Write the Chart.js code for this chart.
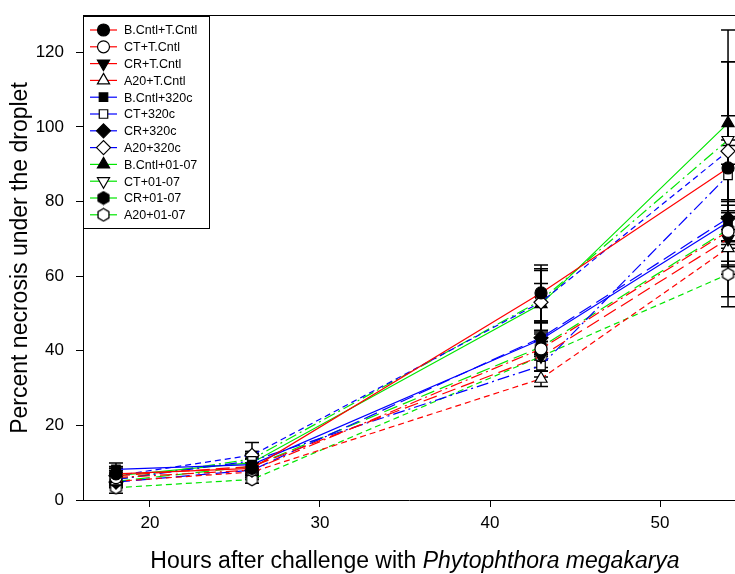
<!DOCTYPE html>
<html>
<head>
<meta charset="utf-8">
<script src="https://cdn.jsdelivr.net/npm/chart.js@4.4.0/dist/chart.umd.min.js"></script>
<style>
  html, body { margin: 0; padding: 0; background: #fff; overflow: hidden; }
  #wrap { width: 735px; height: 574px; position: relative; }
</style>
</head>
<body>
<div id="wrap"><canvas id="chart"></canvas></div>
<script>
// hours after challenge
const hours = [18, 26, 43, 54];

const seriesNames = [
  'B.Cntl+T.Cntl', 'CT+T.Cntl', 'CR+T.Cntl', 'A20+T.Cntl',
  'B.Cntl+320c', 'CT+320c', 'CR+320c', 'A20+320c',
  'B.Cntl+01-07', 'CT+01-07', 'CR+01-07', 'A20+01-07'
];

// percent necrosis (means)
const bcntlTcntl = [7.0, 8.5, 55.5, 89.0];
const ctTcntl    = [6.0, 8.0, 40.5, 72.0];
const crTcntl    = [6.5, 9.0, 38.5, 70.0];
const a20Tcntl   = [5.0, 7.5, 32.5, 67.5];
const bcntl320   = [8.2, 9.5, 43.0, 74.5];
const ct320      = [5.5, 10.5, 36.0, 87.0];
const cr320      = [4.8, 8.0, 43.5, 75.5];
const a20320     = [6.5, 12.0, 53.0, 93.5];
const bcntl0107  = [6.5, 10.0, 52.5, 101.0];
const ct0107     = [5.5, 11.0, 53.5, 96.5];
const cr0107     = [5.0, 9.0, 41.0, 72.5];
const a200107    = [3.3, 5.5, 38.5, 60.5];

// standard errors
const errBcntlTcntl = [2.0, 2.5, 7.5, 28.5];
const errCtTcntl    = [1.5, 2.0, 5.0, 8.0];
const errCrTcntl    = [2.0, 2.0, 4.0, 7.0];
const errA20Tcntl   = [1.5, 2.0, 2.1, 5.0];
const errBcntl320   = [1.7, 2.0, 4.5, 6.0];
const errCt320      = [1.5, 2.5, 3.0, 8.0];
const errCr320      = [1.5, 2.0, 4.0, 21.0];
const errA20320     = [1.5, 3.4, 5.0, 24.0];
const errBcntl0107  = [2.0, 2.5, 9.0, 25.0];
const errCt0107     = [1.5, 2.0, 8.5, 6.5];
const errCr0107     = [1.5, 2.0, 3.5, 5.0];
const errA200107    = [1.5, 1.0, 4.0, 8.7];

const means = [bcntlTcntl, ctTcntl, crTcntl, a20Tcntl, bcntl320, ct320, cr320, a20320, bcntl0107, ct0107, cr0107, a200107];
const errs = [errBcntlTcntl, errCtTcntl, errCrTcntl, errA20Tcntl, errBcntl320, errCt320, errCr320, errA20320, errBcntl0107, errCt0107, errCr0107, errA200107];

const yTicks = [0, 20, 40, 60, 80, 100, 120];
const xTicks = [20, 30, 40, 50];

// hexagon marker
function hexCanvas(fill) {
  const c = document.createElement('canvas');
  c.width = 15; c.height = 15;
  const g = c.getContext('2d');
  g.beginPath();
  for (let i = 0; i < 6; i++) {
    const a = Math.PI / 6 + i * Math.PI / 3;
    const px = 7.5 + 6.3 * Math.cos(a), py = 7.5 + 6.3 * Math.sin(a);
    i ? g.lineTo(px, py) : g.moveTo(px, py);
  }
  g.closePath();
  g.fillStyle = fill; g.fill();
  g.strokeStyle = '#000'; g.lineWidth = 1.3; g.stroke();
  return c;
}

const RED = '#ff0000', BLUE = '#0000ff', GREEN = '#00e600';
const dashes = [[], [12, 4, 2, 4], [14, 6], [6, 4]];
const colors = [RED, RED, RED, RED, BLUE, BLUE, BLUE, BLUE, GREEN, GREEN, GREEN, GREEN];
const markers = [
  { style: 'circle', fill: '#000', rot: 0, r: 6 },
  { style: 'circle', fill: '#fff', rot: 0, r: 6 },
  { style: 'triangle', fill: '#000', rot: 180, r: 7 },
  { style: 'triangle', fill: '#fff', rot: 0, r: 7 },
  { style: 'rect', fill: '#000', rot: 0, r: 6 },
  { style: 'rect', fill: '#fff', rot: 0, r: 6 },
  { style: 'rectRot', fill: '#000', rot: 0, r: 7 },
  { style: 'rectRot', fill: '#fff', rot: 0, r: 7 },
  { style: 'triangle', fill: '#000', rot: 0, r: 7 },
  { style: 'triangle', fill: '#fff', rot: 180, r: 7 },
  { style: hexCanvas('#000'), fill: '#000', rot: 0, r: 6 },
  { style: hexCanvas('#fff'), fill: '#fff', rot: 0, r: 6 }
];

const datasets = seriesNames.map((name, i) => ({
  label: name,
  data: hours.map((h, j) => ({ x: h, y: means[i][j] })),
  errors: errs[i],
  borderColor: colors[i],
  borderWidth: 1.2,
  borderDash: dashes[i % 4],
  pointStyle: markers[i].style,
  pointRotation: markers[i].rot,
  pointRadius: markers[i].r,
  pointBackgroundColor: markers[i].fill,
  pointBorderColor: '#000',
  pointBorderWidth: 1.2,
  fill: false,
  tension: 0,
  clip: 10
}));

// error bars
const errorBars = {
  id: 'errorBars',
  beforeDatasetsDraw(chart) {
    const ctx = chart.ctx, ys = chart.scales.y, xs = chart.scales.x;
    ctx.save();
    ctx.strokeStyle = '#000';
    ctx.lineWidth = 1.5;
    chart.data.datasets.forEach(ds => {
      ds.data.forEach((p, j) => {
        const e = ds.errors[j];
        const x = xs.getPixelForValue(p.x);
        const y1 = ys.getPixelForValue(p.y + e), y2 = ys.getPixelForValue(p.y - e);
        ctx.beginPath();
        ctx.moveTo(x, y1); ctx.lineTo(x, y2);
        ctx.moveTo(x - 7, y1); ctx.lineTo(x + 7, y1);
        ctx.moveTo(x - 7, y2); ctx.lineTo(x + 7, y2);
        ctx.stroke();
      });
    });
    ctx.restore();
  }
};

const FONT = 'Arial, "Liberation Sans", sans-serif';

// top frame line, boxed legend with line + marker samples, and axis titles
const decorations = {
  id: 'decorations',
  afterDraw(chart) {
    const ctx = chart.ctx, area = chart.chartArea;
    ctx.save();
    ctx.strokeStyle = '#000';
    ctx.lineWidth = 1;
    ctx.beginPath();
    ctx.moveTo(area.left, area.top + 0.5);
    ctx.lineTo(area.right, area.top + 0.5);
    ctx.stroke();
    // legend box
    const bx = area.left, by = area.top + 1, bw = 126, bh = 212;
    ctx.fillStyle = '#fff';
    ctx.fillRect(bx, by, bw, bh);
    ctx.strokeRect(bx + 0.5, by + 0.5, bw, bh);
    ctx.font = '12.5px ' + FONT;
    ctx.textBaseline = 'middle';
    chart.data.datasets.forEach((ds, i) => {
      const yy = by + 14 + i * 16.8;
      ctx.strokeStyle = ds.borderColor;
      ctx.lineWidth = 1.2;
      ctx.setLineDash([]);
      ctx.beginPath();
      ctx.moveTo(bx + 7, yy); ctx.lineTo(bx + 34, yy);
      ctx.stroke();
      ctx.fillStyle = ds.pointBackgroundColor;
      ctx.strokeStyle = '#000';
      Chart.helpers.drawPoint(ctx, {
        pointStyle: ds.pointStyle, rotation: ds.pointRotation,
        radius: ds.pointRadius, borderWidth: 1.2
      }, bx + 20.5, yy);
      ctx.fillStyle = '#000';
      ctx.textAlign = 'left';
      ctx.fillText(ds.label, bx + 41, yy + 1);
    });
    // y title
    ctx.fillStyle = '#000';
    ctx.font = '23px ' + FONT;
    ctx.save();
    ctx.translate(21, 258);
    ctx.rotate(-Math.PI / 2);
    ctx.textAlign = 'center';
    ctx.textBaseline = 'middle';
    ctx.fillText('Percent necrosis under the droplet', 0, 0);
    ctx.restore();
    // x title with italic species name
    const part1 = 'Hours after challenge with ';
    const part2 = 'Phytophthora megakarya';
    ctx.font = '23px ' + FONT;
    const w1 = ctx.measureText(part1).width;
    ctx.font = 'italic 23px ' + FONT;
    const w2 = ctx.measureText(part2).width;
    const x0 = 415 - (w1 + w2) / 2;
    ctx.textAlign = 'left';
    ctx.textBaseline = 'middle';
    ctx.font = '23px ' + FONT;
    ctx.fillText(part1, x0, 562);
    ctx.font = 'italic 23px ' + FONT;
    ctx.fillText(part2, x0 + w1, 562);
    ctx.restore();
  }
};

Chart.defaults.font.family = FONT;
Chart.defaults.color = '#000';

new Chart(document.getElementById('chart'), {
  type: 'line',
  data: { datasets },
  options: {
    responsive: true,
    maintainAspectRatio: false,
    animation: false,
    layout: { autoPadding: false, padding: { top: 15, right: 0, left: 0, bottom: 0 } },
    plugins: { legend: { display: false }, tooltip: { enabled: false } },
    scales: {
      x: {
        type: 'linear',
        min: 16.06,
        max: 54.41,
        afterBuildTicks: s => { s.ticks = xTicks.map(v => ({ value: v })); },
        afterFit: s => { s.height = 74; s.paddingLeft = 0; s.paddingRight = 0; },
        ticks: { font: { size: 17 }, padding: 6, maxRotation: 0 },
        grid: { drawOnChartArea: false, drawTicks: true, tickLength: 7, color: '#000', lineWidth: 1 },
        border: { display: true, color: '#000', width: 1 }
      },
      y: {
        min: 0,
        max: 130,
        afterBuildTicks: s => { s.ticks = yTicks.map(v => ({ value: v })); },
        afterFit: s => { s.width = 83; s.paddingTop = 0; s.paddingBottom = 0; },
        ticks: { font: { size: 17 }, padding: 12 },
        grid: { drawOnChartArea: false, drawTicks: true, tickLength: 7, color: '#000', lineWidth: 1 },
        border: { display: true, color: '#000', width: 1 }
      }
    }
  },
  plugins: [errorBars, decorations]
});
</script>
</body>
</html>
